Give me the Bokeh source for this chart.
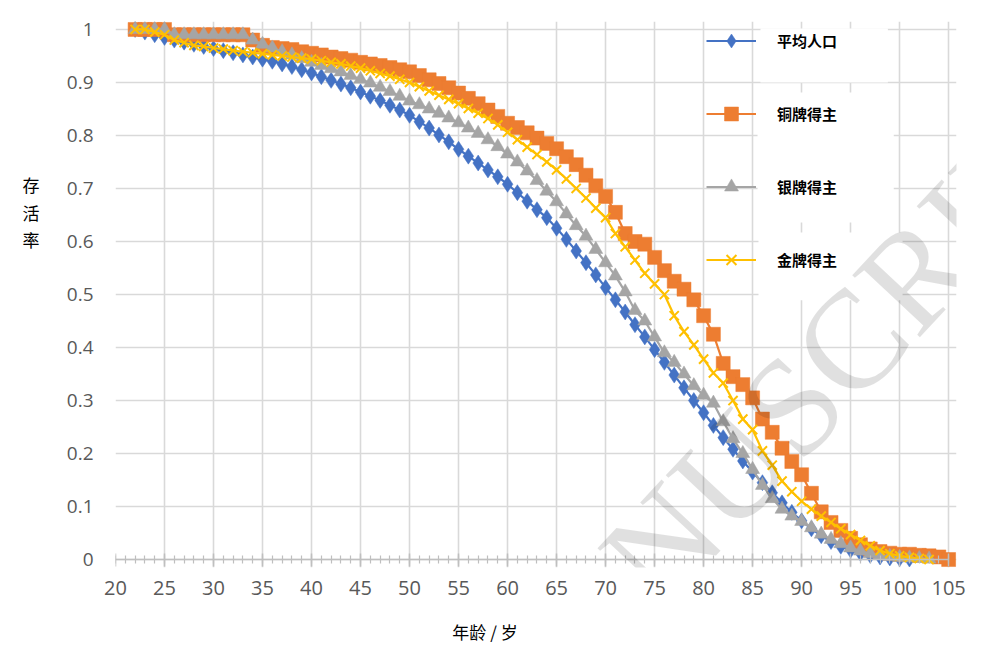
from bokeh.plotting import figure
from bokeh.models import (Range1d, FixedTicker, Legend, LegendItem, Label, BoxAnnotation,
                          LinearAxis, CustomJSTickFormatter)
from bokeh.embed import file_html
from bokeh.resources import INLINE

# ---------------- data ----------------
series_names = ["平均人口", "铜牌得主", "银牌得主", "金牌得主"]

ages_avg = list(range(22, 102))
surv_avg = [1.0, 0.995, 0.99, 0.985, 0.98, 0.976, 0.972, 0.968, 0.964, 0.96,
            0.956, 0.952, 0.948, 0.944, 0.94, 0.935, 0.93, 0.924, 0.918, 0.911,
            0.904, 0.897, 0.89, 0.882, 0.874, 0.866, 0.857, 0.848, 0.838, 0.826,
            0.814, 0.801, 0.788, 0.774, 0.761, 0.748, 0.735, 0.722, 0.708, 0.692,
            0.676, 0.66, 0.645, 0.625, 0.604, 0.582, 0.56, 0.537, 0.513, 0.49,
            0.467, 0.443, 0.42, 0.396, 0.372, 0.348, 0.324, 0.3, 0.277, 0.253,
            0.23, 0.208, 0.186, 0.165, 0.145, 0.126, 0.107, 0.089, 0.073, 0.058,
            0.045, 0.034, 0.025, 0.018, 0.012, 0.008, 0.005, 0.003, 0.002, 0.001]

ages_bronze = list(range(22, 106))
surv_bronze = [1.0, 1.0, 1.0, 1.0, 0.99, 0.99, 0.99, 0.99, 0.99, 0.99,
               0.99, 0.99, 0.98, 0.97, 0.966, 0.964, 0.962, 0.958, 0.955, 0.952,
               0.948, 0.945, 0.942, 0.938, 0.935, 0.932, 0.928, 0.924, 0.92, 0.913,
               0.905, 0.898, 0.89, 0.88, 0.87, 0.86, 0.848, 0.836, 0.823, 0.815,
               0.805, 0.795, 0.785, 0.775, 0.76, 0.745, 0.725, 0.705, 0.685, 0.655,
               0.615, 0.6, 0.595, 0.57, 0.545, 0.525, 0.51, 0.49, 0.46, 0.425,
               0.37, 0.345, 0.33, 0.305, 0.265, 0.24, 0.21, 0.185, 0.16, 0.125,
               0.09, 0.07, 0.055, 0.04, 0.028, 0.02, 0.015, 0.012, 0.01, 0.01,
               0.008, 0.007, 0.005, 0.0]

ages_silver = list(range(22, 104))
surv_silver = [1.0, 1.0, 1.0, 1.0, 0.99, 0.99, 0.99, 0.99, 0.99, 0.99,
               0.99, 0.99, 0.98, 0.972, 0.965, 0.958, 0.952, 0.945, 0.938, 0.932,
               0.926, 0.92, 0.913, 0.906, 0.899, 0.891, 0.883, 0.874, 0.865, 0.858,
               0.85, 0.842, 0.833, 0.824, 0.814, 0.804, 0.792, 0.779, 0.765, 0.75,
               0.733, 0.715, 0.695, 0.675, 0.652, 0.63, 0.61, 0.585, 0.56, 0.535,
               0.505, 0.47, 0.45, 0.42, 0.39, 0.372, 0.35, 0.328, 0.31, 0.295,
               0.26, 0.228, 0.2, 0.17, 0.14, 0.115, 0.095, 0.082, 0.072, 0.06,
               0.048, 0.038, 0.03, 0.022, 0.016, 0.011, 0.008, 0.006, 0.004, 0.003,
               0.002, 0.001]

ages_gold = list(range(22, 104))
surv_gold = [1.0, 1.0, 0.995, 0.99, 0.98, 0.975, 0.97, 0.968, 0.965, 0.963,
             0.96, 0.958, 0.956, 0.954, 0.952, 0.95, 0.948, 0.946, 0.944, 0.941,
             0.938, 0.935, 0.931, 0.927, 0.922, 0.917, 0.912, 0.906, 0.9, 0.892,
             0.884, 0.876, 0.868, 0.86, 0.851, 0.842, 0.832, 0.82, 0.806, 0.792,
             0.778, 0.764, 0.75, 0.735, 0.718, 0.7, 0.682, 0.663, 0.645, 0.615,
             0.59, 0.565, 0.54, 0.52, 0.5, 0.46, 0.43, 0.405, 0.378, 0.352,
             0.333, 0.3, 0.265, 0.245, 0.205, 0.178, 0.148, 0.128, 0.11, 0.095,
             0.082, 0.07, 0.058, 0.047, 0.036, 0.026, 0.017, 0.011, 0.007, 0.004,
             0.002, 0.0]

x_ticks = [20, 25, 30, 35, 40, 45, 50, 55, 60, 65, 70, 75, 80, 85, 90, 95, 100, 105]
x_minor = list(range(20, 106))
y_ticks = [0, 0.1, 0.2, 0.3, 0.4, 0.5, 0.6, 0.7, 0.8, 0.9, 1]

x_title = "年龄 / 岁"
y_title = "存活率"

# ---------------- styles ----------------
colors = ["#4472C4", "#ED7D31", "#A5A5A5", "#FFC000"]
markers = ["diamond", "square", "triangle", "x"]
marker_sizes = [16, 14, 14, 13]
cn_font = "Noto Sans CJK SC"
num_font = "Open Sans"
empty_fmt = CustomJSTickFormatter(code="return ''")
pad = "\u3000"

p = figure(frame_width=841, frame_height=546,
           min_border_left=115, min_border_right=26, min_border_top=21, min_border_bottom=86,
           x_range=Range1d(20, 105.8), y_range=Range1d(-0.015, 1.015),
           output_backend="svg", toolbar_location=None)
p.outline_line_color = None
p.background_fill_color = "white"
p.border_fill_color = "white"

# grid
p.xgrid.ticker = FixedTicker(ticks=x_ticks)
p.ygrid.ticker = FixedTicker(ticks=y_ticks)
for g in (p.xgrid, p.ygrid):
    g.grid_line_color = "#d9d9d9"
    g.grid_line_width = 1.6

# x axis A: tick labels only
xa = p.xaxis[0]
xa.ticker = FixedTicker(ticks=x_ticks)
xa.axis_line_color = None
xa.major_tick_line_color = None
xa.minor_tick_line_color = None
xa.major_tick_in = 0
xa.major_tick_out = 0
xa.minor_tick_in = 0
xa.minor_tick_out = 0
xa.major_label_text_font = num_font
xa.major_label_text_font_size = "20px"
xa.major_label_text_color = "#595959"
xa.major_label_standoff = 13

# x axis B: title only (padded so it sits left of centre, as in the reference)
xb = LinearAxis(ticker=FixedTicker(ticks=[]), formatter=empty_fmt,
                axis_line_color=None, major_tick_line_color=None, minor_tick_line_color=None,
                major_tick_in=0, major_tick_out=0, minor_tick_in=0, minor_tick_out=0,
                major_label_standoff=0,
                axis_label=x_title + pad * 6, axis_label_text_font=cn_font,
                axis_label_text_font_size="17px", axis_label_text_font_style="normal",
                axis_label_text_color="#000000", axis_label_standoff=21)
p.add_layout(xb, "below")

# x axis C: line and ticks sitting on y = 0
xc = LinearAxis(ticker=FixedTicker(ticks=x_ticks, minor_ticks=x_minor), formatter=empty_fmt,
                fixed_location=0, bounds=(20, 105),
                axis_line_color="#bfbfbf", axis_line_width=1.5,
                major_tick_line_color="#bfbfbf", major_tick_line_width=1.5,
                major_tick_in=7, major_tick_out=6,
                minor_tick_line_color="#bfbfbf", minor_tick_line_width=1.2,
                minor_tick_in=4, minor_tick_out=4, major_label_standoff=0,
                major_label_text_font_size="1px")
p.add_layout(xc, "above")

# y axis: tick labels
ya = p.yaxis[0]
ya.ticker = FixedTicker(ticks=y_ticks)
ya.major_label_overrides = {0: "0", 1: "1"}
ya.axis_line_color = None
ya.major_tick_line_color = None
ya.minor_tick_line_color = None
ya.major_tick_in = 0
ya.major_tick_out = 0
ya.minor_tick_in = 0
ya.minor_tick_out = 0
ya.major_label_standoff = 22
ya.major_label_text_font = num_font
ya.major_label_text_font_size = "19px"
ya.major_label_text_color = "#595959"

# y axis title: stacked characters, padded below so they sit above centre
yb = LinearAxis(ticker=FixedTicker(ticks=[]), formatter=empty_fmt,
                axis_line_color=None, major_tick_line_color=None, minor_tick_line_color=None,
                major_tick_in=0, major_tick_out=0, minor_tick_in=0, minor_tick_out=0,
                major_label_standoff=0,
                axis_label="\n".join(list(y_title) + [pad] * 6),
                axis_label_orientation="horizontal",
                axis_label_text_font=cn_font, axis_label_text_font_size="17px",
                axis_label_text_font_style="normal", axis_label_text_color="#000000",
                axis_label_text_line_height=1.1, axis_label_standoff=24)
p.add_layout(yb, "left")

# white masks behind legend labels
legend_masks = [(85.8, 98.8, 1.002, 0.9), (85.5, 99.4, 0.881, 0.636), (85.6, 100.3, 0.617, 0.489)]
for (l, r, t, b) in legend_masks:
    p.add_layout(BoxAnnotation(left=l, right=r, top=t, bottom=b, fill_color="white",
                               fill_alpha=1.0, line_color=None, level="glyph"))

# series
all_x = [ages_avg, ages_bronze, ages_silver, ages_gold]
all_y = [surv_avg, surv_bronze, surv_silver, surv_gold]
items = []
for name, xs, ys, c, m, s in zip(series_names, all_x, all_y, colors, markers, marker_sizes):
    ln = p.line(xs, ys, line_color=c, line_width=2.2)
    if m == "x":
        sc = p.scatter(xs, ys, marker=m, size=s, line_color=c, line_width=2, fill_color=None)
    else:
        sc = p.scatter(xs, ys, marker=m, size=s, fill_color=c, line_color=c, line_width=0.5)
    items.append(LegendItem(label=name, renderers=[ln, sc]))

legend = Legend(items=items, location=(591, 290), orientation="vertical",
                glyph_width=50, glyph_height=35, spacing=38, label_standoff=21,
                padding=0, margin=0, border_line_color=None, background_fill_alpha=0,
                label_text_font=cn_font, label_text_font_size="15px",
                label_text_font_style="bold", label_text_color="#000000")
p.add_layout(legend)

# watermark
p.add_layout(Label(x=87.9, y=0.27, text="MANUSCRIPT", text_font="Liberation Serif",
                   text_font_size="140px", angle=0.82, text_align="center",
                   text_baseline="middle", text_color="#000000", text_alpha=0.12,
                   level="overlay"))

open("out.html", "w").write(file_html(p, INLINE))
